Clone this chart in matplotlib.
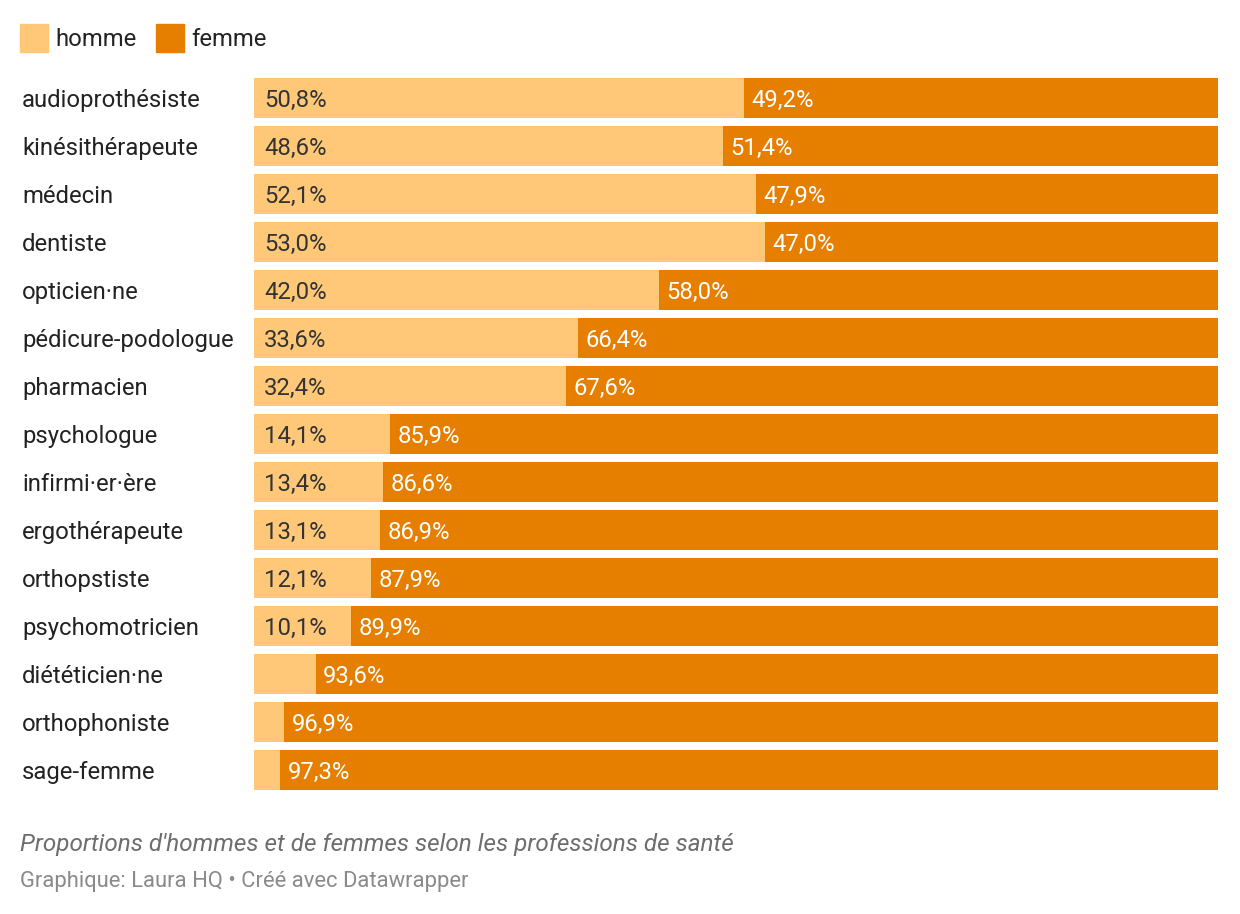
import matplotlib.pyplot as plt
from matplotlib.patches import Rectangle

professions = ['audioprothésiste', 'kinésithérapeute', 'médecin', 'dentiste', 'opticien·ne',
               'pédicure-podologue', 'pharmacien', 'psychologue', 'infirmi·er·ère', 'ergothérapeute',
               'orthopstiste', 'psychomotricien', 'diététicien·ne', 'orthophoniste', 'sage-femme']
homme = [50.8, 48.6, 52.1, 53.0, 42.0, 33.6, 32.4, 14.1, 13.4, 13.1, 12.1, 10.1, 6.4, 3.1, 2.7]
femme = [49.2, 51.4, 47.9, 47.0, 58.0, 66.4, 67.6, 85.9, 86.6, 86.9, 87.9, 89.9, 93.6, 96.9, 97.3]

c_homme = '#fec878'
c_femme = '#e67e00'

plt.rcParams['font.family'] = ['Roboto', 'DejaVu Sans']

W, H = 1240, 914
fig = plt.figure(figsize=(W / 100, H / 100), dpi=100)
fig.patch.set_facecolor('white')

# axes placed in pixel terms
x0, x1 = 254, 1218
y_top, y_bot = 78, 790
ax = fig.add_axes([x0 / W, 1 - y_bot / H, (x1 - x0) / W, (y_bot - y_top) / H])

n = len(professions)
bh = 40 / 48
ypos = list(range(n))
ax.barh(ypos, homme, height=bh, color=c_homme, linewidth=0)
ax.barh(ypos, femme, left=homme, height=bh, color=c_femme, linewidth=0)
ax.set_xlim(0, 100)
ax.set_ylim(n - 1 + bh / 2, -bh / 2)
ax.axis('off')

fs = 17.2
pad = 10 / (x1 - x0) * 100
dy = 0.045
for i in range(n):
    if homme[i] >= 10:
        ax.text(pad, i + dy, f'{homme[i]:.1f}%'.replace('.', ','), va='center', ha='left',
                color='#333333', fontsize=fs)
    ax.text(homme[i] + pad * 0.75, i + dy, f'{femme[i]:.1f}%'.replace('.', ','), va='center', ha='left',
            color='white', fontsize=fs)
    ax.text(-232 / (x1 - x0) * 100, i + dy, professions[i], va='center', ha='left',
            color='#222222', fontsize=fs, clip_on=False)

# legend
for xs, lab, col in [(20, 'homme', c_homme), (156, 'femme', c_femme)]:
    fig.patches.append(Rectangle((xs / W, 1 - 52 / H), 28 / W, 28 / H, color=col,
                                 transform=fig.transFigure))
    fig.text((xs + 35) / W, 1 - 40 / H, lab, va='center', ha='left', fontsize=fs, color='#222222')

fig.text(20 / W, 1 - 845 / H, "Proportions d'hommes et de femmes selon les professions de santé",
         style='italic', fontsize=17.45, color='#6d6d6d', va='center', ha='left')
fig.text(20 / W, 1 - 882 / H, 'Graphique: Laura HQ • Créé avec Datawrapper',
         fontsize=15.8, color='#8a8a8a', va='center', ha='left')

fig.savefig('out.png', dpi=100)
